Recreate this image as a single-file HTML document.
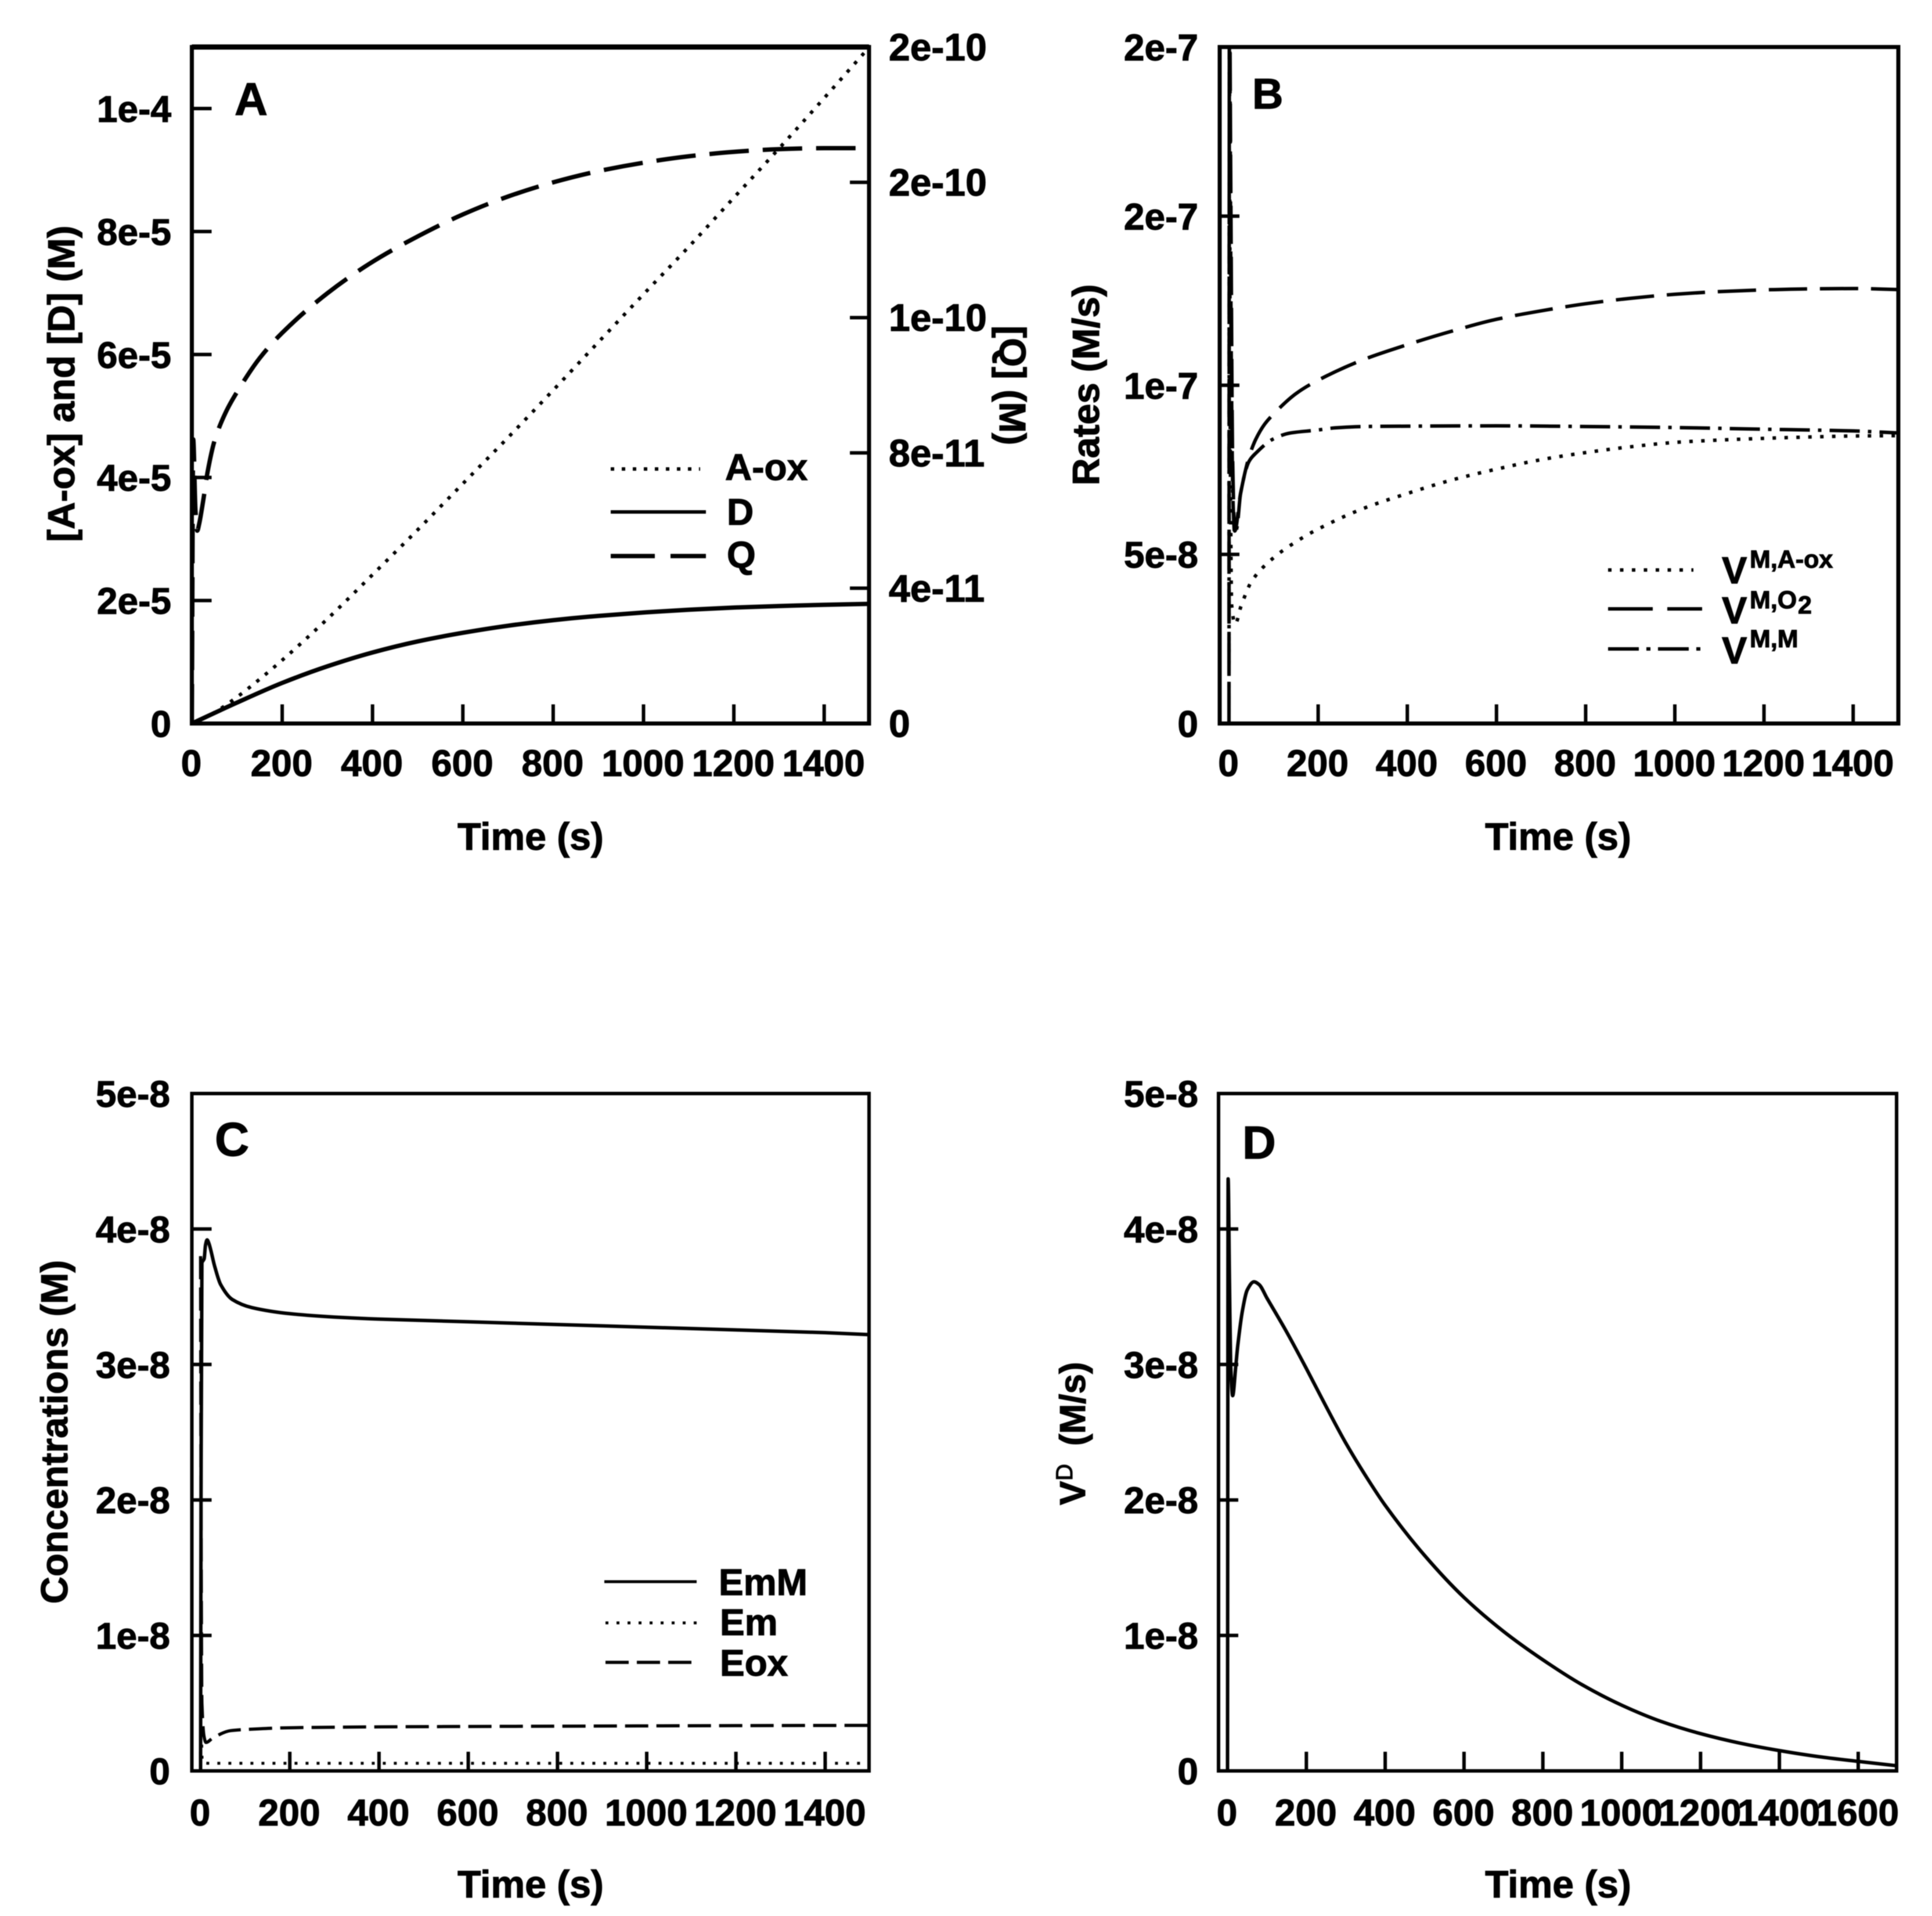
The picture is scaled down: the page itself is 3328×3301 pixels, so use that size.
<!DOCTYPE html>
<html lang="en">
<head>
<meta charset="utf-8">
<title>Kinetic time courses, panels A to D</title>
<style>
html,body{margin:0;padding:0;background:#fff;}
svg{display:block;filter:blur(0.8px);}
text{font-family:"Liberation Sans",Arial,sans-serif;font-weight:bold;fill:#000;stroke:#000;stroke-width:1.2px;}
</style>
</head>
<body>
<svg id="figure" xmlns="http://www.w3.org/2000/svg" width="3328" height="3301" viewBox="0 0 3328 3301">
  <rect x="0" y="0" width="3328" height="3301" fill="#fff"/>

  <g id="panel-a">
    <text x="404" y="198" font-size="79">A</text>
    <text transform="translate(128 661) rotate(-90)" text-anchor="middle" font-size="65">[A-ox] and [D] (M)</text>
    <text transform="translate(1722 664) rotate(90)" text-anchor="middle" font-size="64">[Q] (M)</text>
    <text x="914" y="1464" text-anchor="middle" font-size="66">Time (s)</text>
    <g>
      <line x1="1052" y1="808" x2="1206" y2="808" stroke="#000" stroke-width="6" stroke-dasharray="6 13"/>
      <text x="1249" y="827" font-size="64">A-ox</text>
      <line x1="1052" y1="882" x2="1216" y2="882" stroke="#000" stroke-width="6"/>
      <text x="1252" y="904" font-size="64">D</text>
      <line x1="1052" y1="958" x2="1216" y2="958" stroke="#000" stroke-width="7.5" stroke-dasharray="76 27"/>
      <text x="1252" y="978" font-size="64">Q</text>
    </g>
  </g>

  <g id="panel-b">
    <text x="2157" y="187" font-size="74">B</text>
    <text transform="translate(1893 663) rotate(-90)" text-anchor="middle" font-size="65">Rates (M/s)</text>
    <text x="2684" y="1464" text-anchor="middle" font-size="66">Time (s)</text>
    <g>
      <line x1="2770" y1="982" x2="2917" y2="982" stroke="#000" stroke-width="6" stroke-dasharray="6 14.5"/>
      <text font-size="65"><tspan x="2966" y="1005">V</tspan><tspan x="3014" y="978" font-size="43">M,A-ox</tspan></text>
      <line x1="2770" y1="1049" x2="2932" y2="1049" stroke="#000" stroke-width="6" stroke-dasharray="77 25"/>
      <text font-size="65"><tspan x="2966" y="1074">V</tspan><tspan x="3014" y="1048" font-size="43">M,O</tspan><tspan x="3097" y="1057" font-size="43">2</tspan></text>
      <line x1="2770" y1="1118" x2="2930" y2="1118" stroke="#000" stroke-width="6" stroke-dasharray="53 13 7 13"/>
      <text font-size="65"><tspan x="2966" y="1143">V</tspan><tspan x="3014" y="1115" font-size="43">M,M</tspan></text>
    </g>
  </g>

  <g id="panel-c">
    <text x="370" y="1991" font-size="82">C</text>
    <text transform="translate(116 2467) rotate(-90)" text-anchor="middle" font-size="65">Concentrations (M)</text>
    <text x="914" y="3269" text-anchor="middle" font-size="66">Time (s)</text>
    <g>
      <line x1="1041" y1="2725" x2="1200" y2="2725" stroke="#000" stroke-width="5"/>
      <text x="1238" y="2748" font-size="64">EmM</text>
      <line x1="1043" y1="2796" x2="1203" y2="2796" stroke="#000" stroke-width="5" stroke-dasharray="5 14"/>
      <text x="1240" y="2817" font-size="64">Em</text>
      <line x1="1043" y1="2864" x2="1193" y2="2864" stroke="#000" stroke-width="5.5" stroke-dasharray="40 14"/>
      <text x="1240" y="2887" font-size="64">Eox</text>
    </g>
  </g>

  <g id="panel-d">
    <text x="2140" y="1996" font-size="80">D</text>
    <text transform="translate(1869 2593) rotate(-90)" font-size="62"><tspan x="0" y="0">V</tspan><tspan x="42" y="-22" font-size="40" font-weight="normal">D</tspan><tspan x="102" y="0">(M/s)</tspan></text>
    <text x="2684" y="3269" text-anchor="middle" font-size="66">Time (s)</text>
  </g>
</svg>

<script>
// ---------- Panel A data ----------
const aXTicks = [0, 200, 400, 600, 800, 1000, 1200, 1400];
const aYTicks = [0, 2e-5, 4e-5, 6e-5, 8e-5, 1e-4];
const aYTickLabels = ['0', '2e-5', '4e-5', '6e-5', '8e-5', '1e-4'];
const aRightTicks = [0, 4e-11, 8e-11, 1.2e-10, 1.6e-10, 2e-10];
const aRightTickLabels = ['0', '4e-11', '8e-11', '1e-10', '2e-10', '2e-10'];
const aoxTime = [0, 50, 100, 150, 200, 300, 400, 500, 600, 700, 800, 900, 1000, 1100, 1200, 1300, 1400, 1500];
const aoxValues = [0, 1.8e-6, 4.3e-6, 7.2e-6, 1.03e-5, 1.7e-5, 2.42e-5, 3.15e-5, 3.9e-5, 4.65e-5, 5.42e-5, 6.2e-5, 6.98e-5, 7.75e-5, 8.55e-5, 9.35e-5, 1.017e-4, 1.1e-4];
const dTime = [0, 100, 200, 300, 400, 500, 600, 700, 800, 900, 1000, 1100, 1200, 1300, 1400, 1500];
const dValues = [0, 3.4e-6, 6.6e-6, 9.3e-6, 1.155e-5, 1.335e-5, 1.475e-5, 1.59e-5, 1.68e-5, 1.75e-5, 1.805e-5, 1.85e-5, 1.885e-5, 1.91e-5, 1.93e-5, 1.945e-5];
const qTime = [0, 3, 8, 12, 16, 25, 35, 50, 75, 100, 150, 200, 300, 400, 500, 600, 700, 800, 900, 1000, 1100, 1200, 1300, 1400, 1500];
const qValues = [0, 8.4e-11, 6.3e-11, 5.7e-11, 5.89e-11, 6.58e-11, 7.45e-11, 8.35e-11, 9.2e-11, 9.8e-11, 1.08e-10, 1.155e-10, 1.272e-10, 1.365e-10, 1.44e-10, 1.505e-10, 1.558e-10, 1.6e-10, 1.633e-10, 1.658e-10, 1.677e-10, 1.69e-10, 1.698e-10, 1.701e-10, 1.701e-10];

// ---------- Panel B data ----------
const bXTicks = [0, 200, 400, 600, 800, 1000, 1200, 1400];
const bYTicks = [0, 5e-8, 1e-7, 1.5e-7, 2e-7];
const bYTickLabels = ['0', '5e-8', '1e-7', '2e-7', '2e-7'];
const vmAoxTime = [0, 1, 3, 6, 14, 27, 52, 100, 150, 200, 300, 400, 500, 600, 700, 800, 900, 1000, 1100, 1200, 1300, 1400, 1500];
const vmAoxValues = [0, 1.9e-7, 8e-8, 3.5e-8, 2.94e-8, 3.47e-8, 4.23e-8, 4.9e-8, 5.37e-8, 5.75e-8, 6.35e-8, 6.8e-8, 7.2e-8, 7.52e-8, 7.8e-8, 8.01e-8, 8.18e-8, 8.31e-8, 8.38e-8, 8.43e-8, 8.47e-8, 8.5e-8, 8.51e-8];
const vmO2Time = [0, 1, 4, 8, 13, 26, 45, 60, 80, 100, 150, 200, 300, 400, 500, 600, 700, 800, 900, 1000, 1100, 1200, 1300, 1400, 1500];
const vmO2Values = [0, 2.2e-7, 1.6e-7, 8e-8, 5.69e-8, 6.8e-8, 7.88e-8, 8.4e-8, 8.85e-8, 9.15e-8, 9.75e-8, 1.015e-7, 1.075e-7, 1.12e-7, 1.16e-7, 1.195e-7, 1.22e-7, 1.241e-7, 1.257e-7, 1.269e-7, 1.277e-7, 1.282e-7, 1.285e-7, 1.286e-7, 1.283e-7];
const vmMTime = [0, 1, 5, 9, 13, 18, 26, 45, 60, 99, 138, 195, 238, 303, 400, 600, 800, 1000, 1200, 1400, 1500];
const vmMValues = [0, 2.1e-7, 1.1e-7, 6.6e-8, 5.6e-8, 5.8e-8, 6.8e-8, 7.75e-8, 7.99e-8, 8.41e-8, 8.59e-8, 8.67e-8, 8.74e-8, 8.78e-8, 8.79e-8, 8.8e-8, 8.78e-8, 8.75e-8, 8.7e-8, 8.65e-8, 8.59e-8];

// ---------- Panel C data ----------
const cXTicks = [0, 200, 400, 600, 800, 1000, 1200, 1400];
const cYTicks = [0, 1e-8, 2e-8, 3e-8, 4e-8, 5e-8];
const cYTickLabels = ['0', '1e-8', '2e-8', '3e-8', '4e-8', '5e-8'];
const emmTime = [0, 1, 3, 8, 11, 14.6, 18, 32, 45, 71, 115, 200, 300, 400, 600, 800, 1000, 1200, 1400, 1500];
const emmValues = [0, 2e-8, 3.75e-8, 3.78e-8, 3.88e-8, 3.92e-8, 3.9e-8, 3.72e-8, 3.59e-8, 3.48e-8, 3.42e-8, 3.375e-8, 3.35e-8, 3.335e-8, 3.315e-8, 3.295e-8, 3.275e-8, 3.255e-8, 3.235e-8, 3.22e-8];
const emTime = [0, 1, 4, 20, 400, 800, 1200, 1500];
const emValues = [0, 3e-9, 6e-10, 5.6e-10, 5.6e-10, 5.6e-10, 5.6e-10, 5.6e-10];
const eoxTime = [0, 1, 3, 8, 12, 28, 67, 115, 179, 253, 405, 800, 1200, 1500];
const eoxValues = [3.8e-8, 2e-8, 5e-9, 2.5e-9, 2.1e-9, 2.44e-9, 2.97e-9, 3.08e-9, 3.17e-9, 3.21e-9, 3.25e-9, 3.3e-9, 3.34e-9, 3.36e-9];

// ---------- Panel D data ----------
const vdTime = [0, 1.5, 5, 8, 13, 21, 26, 38, 50, 67, 80, 100, 150, 200, 250, 300, 350, 400, 500, 600, 700, 800, 900, 1000, 1100, 1200, 1300, 1400, 1500, 1600, 1700];
const vdValues = [0, 4.37e-8, 3.6e-8, 3e-8, 2.77e-8, 2.99e-8, 3.14e-8, 3.4e-8, 3.55e-8, 3.61e-8, 3.59e-8, 3.49e-8, 3.24e-8, 2.97e-8, 2.69e-8, 2.42e-8, 2.18e-8, 1.96e-8, 1.59e-8, 1.28e-8, 1.03e-8, 8.2e-9, 6.35e-9, 4.85e-9, 3.65e-9, 2.75e-9, 2.05e-9, 1.5e-9, 1.05e-9, 7e-10, 3.7e-10];
const dXTicks = [0, 200, 400, 600, 800, 1000, 1200, 1400, 1600];
const dYTicks = [0, 1e-8, 2e-8, 3e-8, 4e-8, 5e-8];
const dYTickLabels = ['0', '1e-8', '2e-8', '3e-8', '4e-8', '5e-8'];

const SVGNS = 'http://www.w3.org/2000/svg';

function mk(tag, attrs, parent) {
  const el = document.createElementNS(SVGNS, tag);
  for (const k in attrs) el.setAttribute(k, attrs[k]);
  parent.appendChild(el);
  return el;
}

// Monotone cubic path through the mapped points.
function curvePath(px, py) {
  const n = px.length;
  const slopes = [];
  for (let i = 0; i < n - 1; i++) slopes.push((py[i + 1] - py[i]) / Math.max(px[i + 1] - px[i], 1e-6));
  const m = [slopes[0]];
  for (let i = 1; i < n - 1; i++) {
    m.push(slopes[i - 1] * slopes[i] <= 0 ? 0 : 2 * slopes[i - 1] * slopes[i] / (slopes[i - 1] + slopes[i]));
  }
  m.push(slopes[n - 2]);
  let d = 'M' + px[0].toFixed(2) + ' ' + py[0].toFixed(2);
  for (let i = 0; i < n - 1; i++) {
    const h = (px[i + 1] - px[i]) / 3;
    d += 'C' + (px[i] + h).toFixed(2) + ' ' + (py[i] + m[i] * h).toFixed(2) + ' ' +
         (px[i + 1] - h).toFixed(2) + ' ' + (py[i + 1] - m[i + 1] * h).toFixed(2) + ' ' +
         px[i + 1].toFixed(2) + ' ' + py[i + 1].toFixed(2);
  }
  return d;
}

function drawFrame(parent, box, width) {
  const el = mk('rect', { x: box.left, y: box.top, width: box.right - box.left, height: box.bottom - box.top, fill: 'none', stroke: '#000', 'stroke-width': width, 'stroke-linejoin': 'miter' }, parent);
  
  
}

function drawXAxis(parent, box, xScale, ticks, labelY, tickWidth) {
  ticks.forEach(function (t) {
    const tick = mk('line', { x1: xScale(t), x2: xScale(t), y1: box.bottom, y2: box.bottom - 33, stroke: '#000', 'stroke-width': tickWidth }, parent);
    
    
    const label = mk('text', { x: xScale(t) - 1, y: labelY, 'text-anchor': 'middle', 'font-size': 64 }, parent);
    label.textContent = String(t);
    
    
  });
}

function drawYAxis(parent, box, yScale, ticks, labels, labelX, tickWidth) {
  ticks.forEach(function (v, i) {
    const tick = mk('line', { x1: box.left, x2: box.left + 34, y1: yScale(v), y2: yScale(v), stroke: '#000', 'stroke-width': tickWidth }, parent);
    
    
    const label = mk('text', { x: labelX, y: yScale(v) + 23, 'text-anchor': 'end', 'font-size': 64 }, parent);
    label.textContent = labels[i];
    
    
  });
}

function drawRightAxis(parent, box, yScale, ticks, labels, labelX, tickWidth) {
  ticks.forEach(function (v, i) {
    const tick = mk('line', { x1: box.right, x2: box.right - 33, y1: yScale(v), y2: yScale(v), stroke: '#000', 'stroke-width': tickWidth }, parent);
    
    
    const label = mk('text', { x: labelX, y: yScale(v) + 23, 'font-size': 66 }, parent);
    label.textContent = labels[i];
    
    
  });
}

function drawSeries(parent, clipId, xScale, yScale, times, values, width, dash, name) {
  const attrs = {
    d: curvePath(times.map(xScale), values.map(yScale)),
    fill: 'none', stroke: '#000', 'stroke-width': width,
    'stroke-linejoin': 'round', 'clip-path': 'url(#' + clipId + ')'
  };
  if (dash) attrs['stroke-dasharray'] = dash;
  const el = mk('path', attrs, parent);
  
  
}

function linear(origin, perUnit) {
  return function (v) { return origin + perUnit * v; };
}

function addClip(id, box) {
  const svg = document.getElementById('figure');
  const cp = mk('clipPath', { id: id }, svg);
  mk('rect', { x: box.left, y: box.top, width: box.right - box.left, height: box.bottom - box.top }, cp);
}

// ---------- Panel A ----------
(function () {
  const g = document.getElementById('panel-a');
  const box = { left: 330.5, right: 1497, top: 81, bottom: 1246.5 };
  const x = linear(330.5, 0.778);
  const y = linear(1246.5, -1165.5 / 1.1e-4);
  const yR = linear(1246.5, -1165.5 / 2e-10);
  addClip('clip-a', box);
  drawSeries(g, 'clip-a', x, y, aoxTime, aoxValues, 6, '6 13', 'series-a-ox');
  drawSeries(g, 'clip-a', x, y, dTime, dValues, 7.5, null, 'series-d');
  drawSeries(g, 'clip-a', x, yR, qTime, qValues, 7.5, '68 24', 'series-q');
  drawFrame(g, box, 7);
  const topEdge = mk('line', { x1: box.left, x2: box.right, y1: box.top, y2: box.top, stroke: '#000', 'stroke-width': 9 }, g);
  
  
  drawXAxis(g, box, x, aXTicks, 1337, 6);
  drawYAxis(g, box, y, aYTicks, aYTickLabels, 295, 6);
  drawRightAxis(g, box, yR, aRightTicks, aRightTickLabels, 1531, 6);
})();

// ---------- Panel B ----------
(function () {
  const g = document.getElementById('panel-b');
  const box = { left: 2101, right: 3270, top: 81, bottom: 1246.5 };
  const x = linear(2117, 0.768);
  const y = linear(1246.5, -1165.5 / 2e-7);
  addClip('clip-b', box);
  drawSeries(g, 'clip-b', x, y, vmAoxTime, vmAoxValues, 6, '6 14.5', 'series-vm-a-ox');
  drawSeries(g, 'clip-b', x, y, vmO2Time, vmO2Values, 6, '66 22', 'series-vm-o2');
  drawSeries(g, 'clip-b', x, y, vmMTime, vmMValues, 6, '52 14 6 14', 'series-vm-m');
  drawFrame(g, box, 7);
  drawXAxis(g, box, x, bXTicks, 1337, 6);
  drawYAxis(g, box, y, bYTicks, bYTickLabels, 2064, 6);
})();

// ---------- Panel C ----------
(function () {
  const g = document.getElementById('panel-c');
  const box = { left: 330.5, right: 1497, top: 1884, bottom: 3051 };
  const x = linear(345.5, 0.7685);
  const y = linear(3051, -1167 / 5e-8);
  addClip('clip-c', box);
  drawSeries(g, 'clip-c', x, y, emmTime, emmValues, 6, null, 'series-emm');
  drawSeries(g, 'clip-c', x, y, emTime, emValues, 5, '5 14', 'series-em');
  drawSeries(g, 'clip-c', x, y, eoxTime, eoxValues, 5.5, '40 14', 'series-eox');
  drawFrame(g, box, 6);
  drawXAxis(g, box, x, cXTicks, 3145, 6);
  drawYAxis(g, box, y, cYTicks, cYTickLabels, 293, 6);
})();

// ---------- Panel D ----------
(function () {
  const g = document.getElementById('panel-d');
  const box = { left: 2099, right: 3267, top: 1884, bottom: 3051 };
  const x = linear(2114.5, 0.679);
  const y = linear(3051, -1167 / 5e-8);
  addClip('clip-d', box);
  drawSeries(g, 'clip-d', x, y, vdTime, vdValues, 6, null, 'series-vd');
  drawFrame(g, box, 6);
  drawXAxis(g, box, x, dXTicks, 3145, 6);
  drawYAxis(g, box, y, dYTicks, dYTickLabels, 2064, 6);
})();
</script>
</body>
</html>
